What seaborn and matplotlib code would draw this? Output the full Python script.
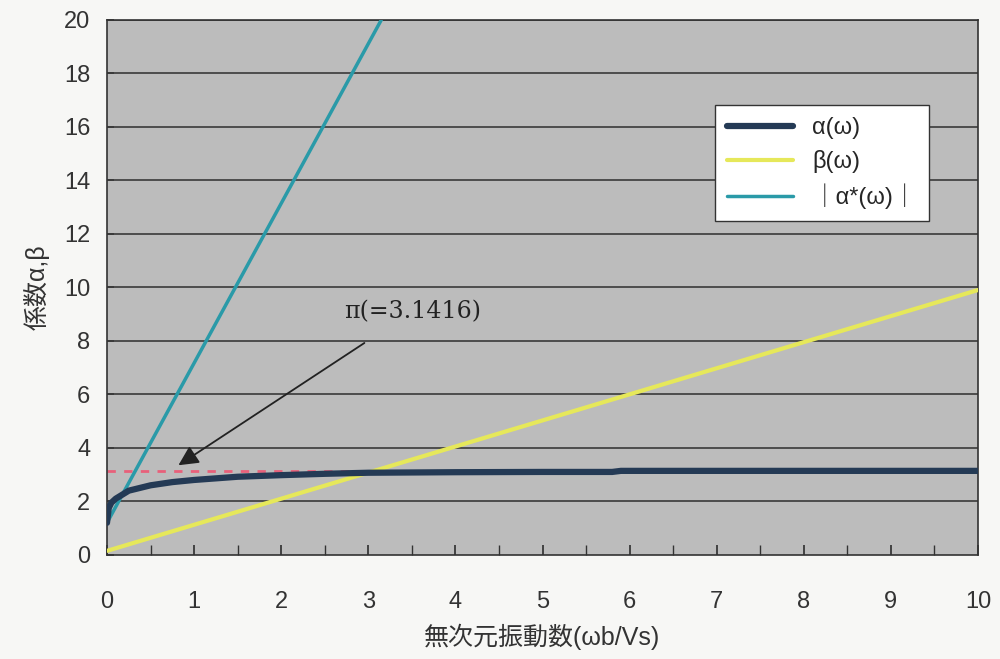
import numpy as np
import pandas as pd
import matplotlib.pyplot as plt
import seaborn as sns

# data
omega_alpha = [0.0, 0.02, 0.05, 0.1, 0.25, 0.5, 0.75, 1.0, 1.5, 2.0, 2.5, 3.0, 4.0, 5.0, 5.8, 5.9, 7.0, 8.0, 9.0, 10.0]
alpha = [1.2, 1.75, 1.95, 2.1, 2.4, 2.6, 2.72, 2.8, 2.92, 2.98, 3.03, 3.07, 3.09, 3.1, 3.1, 3.14, 3.14, 3.14, 3.14, 3.14]
omega_beta = [0.0, 10.0]
beta = [0.15, 9.9]
omega_star = [0.0, 3.15]
alpha_star = [1.2, 20.0]
pi_x = [0.0, 10.0]
pi_y = [3.1416, 3.1416]

x_ticks = list(range(0, 11))
y_ticks = list(range(0, 21, 2))

sns.set_theme(style='ticks')
plt.rcParams['font.family'] = ['Liberation Sans', 'Noto Sans CJK JP', 'DejaVu Sans']

fig = plt.figure(figsize=(10, 6.59), dpi=100, facecolor='#f7f7f5')
ax = fig.add_axes([0.107, 0.158, 0.871, 0.812])
ax.set_facecolor('#bcbcbc')

for y in y_ticks[1:]:
    ax.axhline(y, color='#3a3a3a', lw=1.2, zorder=1)

sns.lineplot(x=pi_x, y=pi_y, ax=ax, color='#e8607a', lw=2, linestyle=(0, (3, 3)), zorder=2)
sns.lineplot(x=omega_beta, y=beta, ax=ax, color='#e6e85a', lw=3, label='β(ω)', zorder=3)
sns.lineplot(x=omega_star, y=alpha_star, ax=ax, color='#2a9aa8', lw=2.5, label='｜α*(ω)｜', zorder=3)
sns.lineplot(x=omega_alpha, y=alpha, ax=ax, color='#243a55', lw=4.5, label='α(ω)', zorder=4)

ax.set_xlim(0, 10)
ax.set_ylim(0, 20)
ax.set_xticks(x_ticks)
ax.set_xticks(np.arange(0, 10.01, 0.5), minor=True)
ax.set_yticks(y_ticks)
ax.tick_params(axis='both', which='both', direction='in', labelsize=17, colors='#333333')
ax.tick_params(axis='x', which='both', length=7, pad=26)
ax.tick_params(axis='y', length=5, pad=12)
for s in ax.spines.values():
    s.set_color('#333333')
    s.set_linewidth(1.2)

ax.set_xlabel('無次元振動数(ωb/Vs)', fontsize=18, color='#333333', labelpad=8)
ax.set_ylabel('係数α,β', fontsize=18, color='#333333', labelpad=10)

ax.annotate('π(=3.1416)', xy=(0.82, 3.35), xytext=(2.72, 9.1),
            fontsize=17, color='#222222', va='center', family=['DejaVu Serif'],
            arrowprops=dict(arrowstyle='-|>', color='#222222', lw=1.3,
                            mutation_scale=30, shrinkA=22, shrinkB=0))

handles, labels = ax.get_legend_handles_labels()
order = [2, 0, 1]
leg = ax.legend([handles[i] for i in order], [labels[i] for i in order],
                loc='upper left', bbox_to_anchor=(0.685, 0.862), fontsize=17,
                frameon=True, fancybox=False, edgecolor='#333333',
                handlelength=2.8, borderpad=0.5, labelspacing=0.45)
leg.get_frame().set_facecolor('white')
leg.get_frame().set_alpha(1)

fig.savefig('out.png', dpi=100, facecolor=fig.get_facecolor())
